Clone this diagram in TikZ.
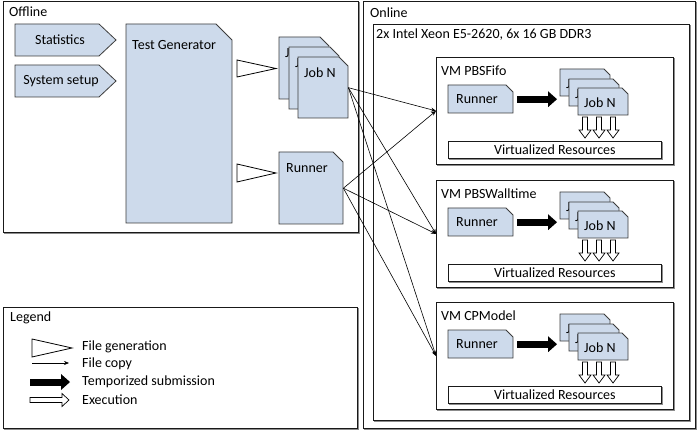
\documentclass[tikz,border=0pt]{standalone}
\usepackage{fontspec}
\setmainfont{Carlito}
\usetikzlibrary{arrows.meta,calc}
\definecolor{docfill}{RGB}{205,218,235}
\definecolor{docline}{RGB}{60,60,60}
\tikzset{
  lbl/.style={inner sep=0pt, anchor=west, font=\fontsize{14}{16}\selectfont},
  boxline/.style={draw=black!90, line width=0.8pt, fill=white},
  shadowline/.style={draw=black!45, line width=1.2pt},
  docstyle/.style={draw=docline, fill=docfill, line width=0.8pt, line join=miter},
  copyarrow/.style={line width=0.6pt, -{Stealth[length=5pt,width=4pt]}},
  submitarrow/.style={line width=7pt, -{Triangle[length=9pt,width=16pt,line width=0pt]}},
  gentri/.style={draw=black, fill=white, line width=0.8pt, line join=miter},
  hollowdn/.pic={\path[draw=black, fill=white, line width=0.7pt] (-2.5,0) -- (-2.5,13) -- (-6,13) -- (0,21) -- (6,13) -- (2.5,13) -- (2.5,0) -- cycle;},
  hollowrt/.pic={\path[draw=black, fill=white, line width=0.7pt] (0,-2.5) -- (32,-2.5) -- (32,-6.5) -- (39,0) -- (32,6.5) -- (32,2.5) -- (0,2.5) -- cycle;},
}
% name, x1, y1, width, height
\newcommand\boxnode[5]{%
  \draw[shadowline] (#2+1.5,#3+1.5) rectangle (#2+#4+1.5,#3+#5+1.5);
  \node[boxline, inner sep=0pt, minimum width=#4pt, minimum height=#5pt, anchor=north west] (#1) at (#2,#3) {};
}
% name, x, y, w, h, fold, text, text dx, text dy
\newcommand\docnode[9]{%
  \path[docstyle] (#2,#3) -- (#2+#4-#6,#3) -- (#2+#4,#3+#6) -- (#2+#4,#3+#5) -- (#2,#3+#5) -- cycle;
  \node[inner sep=0pt, minimum width=#4pt, minimum height=#5pt, anchor=north west] (#1) at (#2,#3) {};
  \node[lbl] (#1-t) at (#2+#8,#3+#9) {#7};
}
% prefix, label, y
\newcommand\vmbox[3]{%
  \begin{scope}[shift={(436,#3)}]
    \boxnode{#1}{0}{0}{237}{107}
    \node[lbl] (#1-l) at (5,14) {VM #2};
    \docnode{#1-run}{12}{28}{65}{28}{7}{Runner}{8}{14}
    \docnode{#1-j1}{124}{12}{50}{27}{6}{J}{6}{15}
    \docnode{#1-j2}{133}{22}{50}{27}{6}{J}{6}{15}
    \docnode{#1-j3}{142}{31}{50}{27}{6}{Job N}{6}{15}
    \draw[submitarrow, shorten <=4pt, shorten >=3pt] (#1-run.east) -- (#1-run.east -| #1-j1.west);
    \pic at (149,60) {hollowdn};
    \pic at (163,60) {hollowdn};
    \pic at (177,60) {hollowdn};
    \boxnode{#1-vr}{12}{84}{213}{17}
    \node[lbl, anchor=center] (#1-vrt) at (#1-vr.center) {Virtualized Resources};
  \end{scope}
}
\begin{document}
\begin{tikzpicture}[x=1pt, y=-1pt]
  \useasboundingbox (0,0) rectangle (698,435);
  % Offline
  \boxnode{offline}{3}{1}{355}{231}
  \node[lbl] (offlinel) at (9,12) {Offline};
  \path[docstyle] (15,24) -- (99,24) -- (116,40) -- (99,56) -- (15,56) -- cycle;
  \node[lbl, anchor=center] (stat) at (60,40) {Statistics};
  \path[docstyle] (15,65) -- (99,65) -- (116,81) -- (99,97) -- (15,97) -- cycle;
  \node[lbl, anchor=center] (setup) at (61,81) {System setup};
  \docnode{tg}{126}{24}{106}{199}{16}{Test Generator}{6}{21}
  \docnode{oj1}{279}{37}{50}{62}{9}{J}{6}{16}
  \docnode{oj2}{289}{47}{50}{62}{9}{J}{6}{16}
  \docnode{oj3}{298}{57}{50}{61}{9}{Job N}{6}{16}
  \docnode{orun}{279}{152}{64}{72}{10}{Runner}{7}{16}
  \path[gentri] (237,60) -- (237,77) -- (276,68.5) -- cycle;
  \path[gentri] (237,164) -- (237,182) -- (276,173) -- cycle;
  % Online
  \boxnode{online}{363}{1}{332}{427}
  \node[lbl] (onlinel) at (370,13) {Online};
  \boxnode{xeon}{373}{24}{316}{396}
  \node[lbl] (xeonl) at (376,35) {2x Intel Xeon E5-2620, 6x 16 GB DDR3};
  \vmbox{vma}{PBSFifo}{57}
  \vmbox{vmb}{PBSWalltime}{180}
  \vmbox{vmc}{CPModel}{302}
  % copies
  \foreach \v in {vma,vmb,vmc}{
    \draw[copyarrow] (oj3.east) -- (\v.west);
    \draw[copyarrow] (orun.east) -- (\v.west);
  }
  % Legend
  \boxnode{legend}{3}{307}{354}{121}
  \node[lbl] (legendl) at (10,318) {Legend};
  \path[gentri] (32,339) -- (32,357) -- (72,348) -- cycle;
  \node[lbl] (lg1) at (82,347) {File generation};
  \coordinate (lc1) at (32,363); \coordinate (lc2) at (69,363);
  \draw[copyarrow] (lc1) -- (lc2);
  \node[lbl] (lg2) at (82,364) {File copy};
  \coordinate (ls1) at (30,382); \coordinate (ls2) at (70,382);
  \draw[submitarrow] (ls1) -- (ls2);
  \node[lbl] (lg3) at (82,382) {Temporized submission};
  \pic at (30,400) {hollowrt};
  \node[lbl] (lg4) at (82,400) {Execution};
\end{tikzpicture}
\end{document}
